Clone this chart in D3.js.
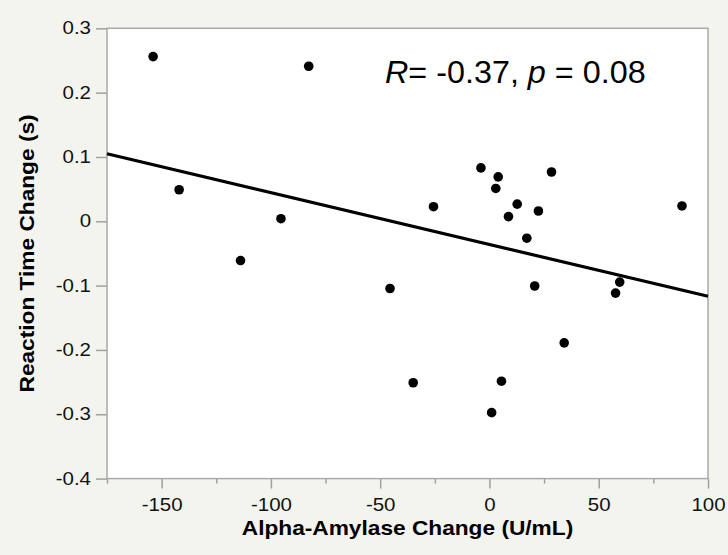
<!DOCTYPE html>
<html>
<head>
<meta charset="utf-8">
<script src="https://cdn.jsdelivr.net/npm/d3@7"></script>
<style>
  html, body { margin: 0; padding: 0; background: #f4f4ef; }
  svg text { font-family: "Liberation Sans", Arial, Helvetica, sans-serif; }
</style>
</head>
<body>
<svg id="chart"></svg>
<script>
// alpha-amylase change (U/mL) and reaction time change (s), one entry per subject
const amylaseChange = [-153.9, -82.7, -142.0, -95.4, -113.9, -45.5, -34.9, -25.6, -3.9, 4.0, 2.9, 12.7,
    8.7, 22.4, 28.4, 17.1, 20.7, 34.2, 5.5, 1.0, 57.7, 59.6, 88.1];
const reactionChange = [0.256, 0.241, 0.049, 0.004, -0.061, -0.1045, -0.251, 0.0227, 0.083, 0.069, 0.051, 0.0266,
    0.0073, 0.016, 0.0766, -0.0263, -0.1006, -0.189, -0.2486, -0.2975, -0.1116, -0.0945, 0.0238];

const xMajorTicks = [-150, -100, -50, 0, 50, 100];
const xMinorTicks = [-175, -125, -75, -25, 25, 75];
const yTicks = [-0.4, -0.3, -0.2, -0.1, 0, 0.1, 0.2, 0.3];

const width = 728, height = 555;
const margin = { top: 28.3, right: 20, bottom: 76.4, left: 107 };
const plotW = width - margin.left - margin.right;
const plotH = height - margin.top - margin.bottom;

// the original labels are a bit wider than Liberation Sans, so stretch them sideways
function widen(sel, k) {
    sel.each(function() {
        const len = this.getComputedTextLength();
        d3.select(this)
            .attr("textLength", len * k)
            .attr("lengthAdjust", "spacingAndGlyphs");
    });
}

const svg = d3.select("#chart")
    .attr("width", width)
    .attr("height", height);

svg.append("rect")
    .attr("width", width).attr("height", height)
    .attr("fill", "#f4f4ef");

const g = svg.append("g")
    .attr("transform", `translate(${margin.left},${margin.top})`);

const x = d3.scaleLinear().domain([-175, 100]).range([0, plotW]);
const y = d3.scaleLinear().domain([-0.4, 0.3]).range([plotH, 0]);

g.append("rect")
    .attr("width", plotW).attr("height", plotH)
    .attr("fill", "#fff");

// axes
g.append("g")
    .call(d3.axisLeft(y).tickValues(yTicks).tickSize(11).tickPadding(5)
        .tickFormat(d => d === 0 ? "0" : d3.format(".1f")(d).replace("−", "-")));

g.append("g")
    .attr("transform", `translate(0,${plotH})`)
    .call(d3.axisBottom(x).tickValues(xMajorTicks).tickSize(10).tickPadding(10)
        .tickFormat(d => String(d)));

g.append("g")
    .attr("transform", `translate(0,${plotH})`)
    .call(d3.axisBottom(x).tickValues(xMinorTicks).tickSize(5).tickFormat(""));

g.selectAll(".domain").remove();
g.selectAll(".tick line").attr("stroke", "#a0a0a0").attr("stroke-width", 1.5);
g.selectAll(".tick text")
    .attr("fill", "#111")
    .style("font-size", "17.5px")
    .call(widen, 1.17);

// plot frame
g.append("rect")
    .attr("width", plotW).attr("height", plotH)
    .attr("fill", "none")
    .attr("stroke", "#a8a8a8")
    .attr("stroke-width", 1.5);

// least squares line
const n = amylaseChange.length;
const mx = d3.mean(amylaseChange), my = d3.mean(reactionChange);
let sxy = 0, sxx = 0;
for (let i = 0; i < n; i++) {
    sxy += (amylaseChange[i] - mx) * (reactionChange[i] - my);
    sxx += (amylaseChange[i] - mx) ** 2;
}
const slope = sxy / sxx;
const intercept = my - slope * mx;
const xDom = x.domain();

g.append("line")
    .attr("x1", x(xDom[0])).attr("y1", y(intercept + slope * xDom[0]))
    .attr("x2", x(xDom[1])).attr("y2", y(intercept + slope * xDom[1]))
    .attr("stroke", "#000")
    .attr("stroke-width", 3.2);

g.selectAll("circle")
    .data(d3.range(n))
    .enter().append("circle")
    .attr("cx", i => x(amylaseChange[i]))
    .attr("cy", i => y(reactionChange[i]))
    .attr("r", 4.8)
    .attr("fill", "#000");

// annotation
const note = g.append("text")
    .attr("x", x(-47.8))
    .attr("y", y(0.215))
    .style("font-size", "30.5px")
    .attr("fill", "#000");
note.append("tspan").style("font-style", "italic").text("R");
note.append("tspan").text("= -0.37, ");
note.append("tspan").style("font-style", "italic").text("p");
note.append("tspan").text(" = 0.08");
note.call(widen, 1.06);

// axis titles
svg.append("text")
    .attr("x", margin.left + plotW / 2)
    .attr("y", 535)
    .attr("text-anchor", "middle")
    .style("font-size", "21px")
    .style("font-weight", "bold")
    .text("Alpha-Amylase Change (U/mL)")
    .call(widen, 1.08);

svg.append("text")
    .attr("transform", `translate(33.5,${margin.top + plotH / 2}) rotate(-90)`)
    .attr("text-anchor", "middle")
    .style("font-size", "21px")
    .style("font-weight", "bold")
    .text("Reaction Time Change (s)")
    .call(widen, 1.08);
</script>
</body>
</html>
